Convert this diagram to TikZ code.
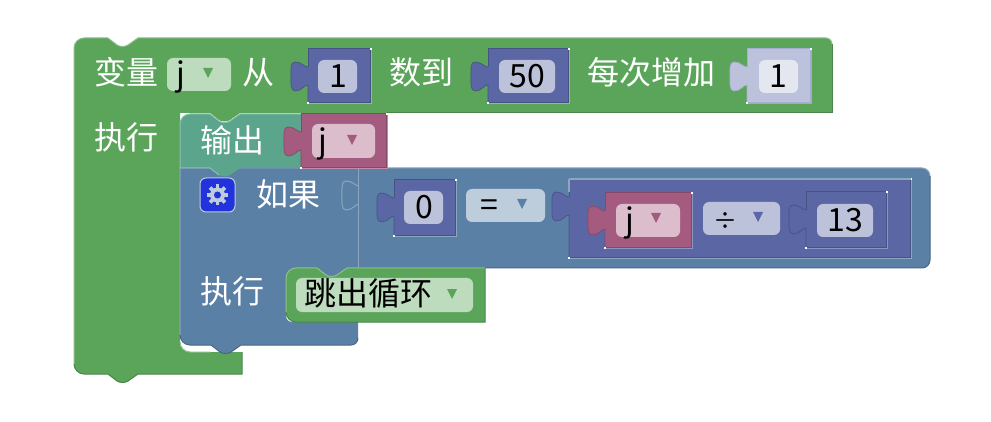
\documentclass[tikz,border=0pt]{standalone}
\usepackage{fontspec}
\setmainfont{Noto Sans CJK SC}

% block colours
\definecolor{greenbase}{HTML}{5BA55B}\definecolor{greenlight}{HTML}{8CC08C}\definecolor{greendark}{HTML}{498449}
\definecolor{tealbase}{HTML}{5BA58C}\definecolor{teallight}{HTML}{8CC0AF}\definecolor{tealdark}{HTML}{498470}
\definecolor{steelbase}{HTML}{5B80A5}\definecolor{steellight}{HTML}{8CA6C0}\definecolor{steeldark}{HTML}{496684}
\definecolor{rosebase}{HTML}{A55B80}\definecolor{roselight}{HTML}{C08CA6}\definecolor{rosedark}{HTML}{844966}
\definecolor{indigobase}{HTML}{5B67A5}\definecolor{indigolight}{HTML}{8C95C0}\definecolor{indigodark}{HTML}{495284}
\definecolor{palebase}{HTML}{BCC2DC}\definecolor{palelight}{HTML}{D5D9EA}\definecolor{paledark}{HTML}{A6ADCE}
% field colours
\definecolor{greenfield}{HTML}{BDDBBD}\definecolor{rosefield}{HTML}{DBBDCC}
\definecolor{indigofield}{HTML}{BDC2DB}\definecolor{steelfield}{HTML}{BDCDDB}\definecolor{palefield}{HTML}{E4E7F0}
\definecolor{iconblue}{HTML}{2233DD}

% notch on a top edge, bump on a bottom edge, tab on a left edge
\newcommand{\notchright}[2]{-- (#1,#2) -- (#1+9,#2+7) .. controls (#1+12,#2+9) and (#1+17,#2+9) .. (#1+20,#2+7) -- (#1+30,#2)}
\newcommand{\notchleft}[2]{-- (#1+30,#2) -- (#1+20,#2+7) .. controls (#1+17,#2+9) and (#1+12,#2+9) .. (#1+9,#2+7) -- (#1,#2)}
\newcommand{\tabpath}[2]{-- (#1,#2+36) .. controls (#1-4,#2+36) and (#1-6,#2+42) .. (#1-13,#2+42)
    .. controls (#1-18,#2+42) and (#1-17,#2+33) .. (#1-17,#2+27)
    .. controls (#1-17,#2+21) and (#1-18,#2+13) .. (#1-13,#2+13)
    .. controls (#1-6,#2+13) and (#1-4,#2+18) .. (#1,#2+18)}
% round corner: start, corner, end
\newcommand{\cornerto}[6]{-- (#1,#2) .. controls ({#1+.55*(#3-#1)},{#2+.55*(#4-#2)}) and ({#5+.55*(#3-#5)},{#6+.55*(#4-#6)}) .. (#5,#6)}

% value block: left, top, right, bottom, own family, family of the block around it
\newcommand{\valuebox}[6]{
    \fill[#5base] (#1,#2) -- (#3,#2) -- (#3,#4) -- (#1,#4) \tabpath{#1}{#2} -- cycle;
    \draw[#5dark, line width=.7pt] (#1,#4) \tabpath{#1}{#2};
    \draw[#5dark] (#1,#2+18) -- (#1,#2) -- (#3,#2);
    \draw[#5dark, line width=.7pt] (#1+1,#4-1) -- (#3-1,#4-1) -- (#3-1,#2+1);
    \draw[#6light, line width=1.2pt] (#1,#4+.6) -- (#3+.6,#4+.6) -- (#3+.6,#2);
    \fill[white] (#3-.6,#2-.6) rectangle (#3+.6,#2+.6);
    \fill[white] (#1-.6,#4-.6) rectangle (#1+.6,#4+.6);
}
\newcommand{\fieldbox}[5]{\fill[#5field, rounded corners=6pt] (#1,#2) rectangle (#3,#4);}
\newcommand{\dropmark}[3]{\fill[#3base] (#1-5,#2-5) -- (#1+5,#2-5) -- (#1,#2+5) -- cycle;}

\begin{document}
\begin{tikzpicture}[x = 1pt, y = -1pt, % one unit is one pixel of the screenshot
                line width = 1pt % line style
            ]

    \tikzstyle{whitetext}=[text = white, font = \fontsize{32}{36}\selectfont, inner sep = 0pt,
    text height = 26pt, text depth = 3pt]
    \tikzstyle{blacktext}=[whitetext, text = black]

    \useasboundingbox (0,0) rectangle (991,422);

    % outer loop block
    \fill[greenbase] (74,48) \cornerto{74}{48}{74}{38}{84}{38} \notchright{108}{38} \cornerto{826}{38}{832}{38}{832}{44}
        -- (832,113) \notchleft{210}{113} -- (180,113) \cornerto{180}{342}{180}{352}{190}{352} -- (242,352)
        -- (242,374) \notchleft{108}{374} \cornerto{84}{374}{74}{374}{74}{364} -- cycle;
    \draw[greenlight] (74,364) \cornerto{74}{48}{74}{38}{84}{38} \notchright{108}{38} \cornerto{826}{38}{832}{38}{832}{44};
    \draw[greendark] (832,44) -- (832,113) -- (387,113);
    \draw[greendark] (242,352) -- (242,374) \notchleft{108}{374} \cornerto{84}{374}{74}{374}{74}{364};
    \draw[greenlight] (180,342) \cornerto{180}{342}{180}{352}{190}{352} -- (210,352);

    \node[whitetext] (varlabel) at (126,73) {变量};
    \fieldbox{167}{58}{231}{91}{green}
    \node[blacktext] (varname) at (181,74) {j};
    \dropmark{208}{73}{green}
    \node[whitetext] (fromlabel) at (258,73) {从};
    \valuebox{308}{49}{371}{103}{indigo}{green}
    \fieldbox{318}{60}{357}{93}{indigo}
    \node[blacktext] (fromvalue) at (338,76) {1};
    \node[whitetext] (tolabel) at (421,73) {数到};
    \valuebox{488}{49}{569}{103}{indigo}{green}
    \fieldbox{499}{60}{555}{93}{indigo}
    \node[blacktext] (tovalue) at (527,76) {50};
    \node[whitetext] (bylabel) at (651,73) {每次增加};
    \valuebox{747}{49}{811}{103}{pale}{green}
    \fieldbox{759}{60}{798}{93}{pale}
    \node[blacktext] (byvalue) at (778,76) {1};
    \node[whitetext] (dolabel) at (126,138) {执行};

    % if block
    \fill[steelbase] (180,168) \cornerto{922}{168}{930}{168}{930}{176} \cornerto{930}{260}{930}{268}{922}{268}
        \notchleft{317}{268} \cornerto{296}{268}{286}{268}{286}{278} \cornerto{286}{316}{286}{322}{292}{322}
        -- (358,322) \cornerto{358}{338}{358}{345}{351}{345}
        \notchleft{211}{345} \cornerto{190}{345}{180}{345}{180}{335} -- cycle;
    \draw[steellight] (180,335) -- (180,168) \cornerto{922}{168}{930}{168}{930}{176};
    \draw[steeldark] (930,176) \cornerto{930}{260}{930}{268}{922}{268} -- (358,268);
    \draw[steeldark] (358,338) \cornerto{358}{338}{358}{345}{351}{345} \notchleft{211}{345} \cornerto{190}{345}{180}{345}{180}{335};
    \draw[steellight] (358,168) -- (358,268);
    \draw[steellight] (359,204) \tabpath{359}{168};

    % print block on top of the if block
    \fill[tealbase] (180,124) \cornerto{180}{124}{180}{114}{190}{114} \notchright{210}{114} -- (301,114)
        -- (301,168) \notchleft{210}{168} -- (180,168) -- cycle;
    \draw[teallight] (180,168) \cornerto{180}{124}{180}{114}{190}{114} \notchright{210}{114} -- (301,114);
    \draw[teallight] (180,168) -- (210,168) -- (219,175);
    \node[whitetext] (printlabel) at (232,141) {输出};
    \valuebox{301}{114}{387}{168}{rose}{rose}
    \fieldbox{312}{124}{375}{158}{rose}
    \node[blacktext] (printname) at (323,141) {j};
    \dropmark{352}{140}{rose}

    \fill[iconblue, draw=steelfield, rounded corners=6pt] (200,178) rectangle (235,212);
    \fill[steelfield] (217.5,195) circle (7.5);
    \foreach \a in {0,45,...,315}
        \draw[steelfield, line width=3.8pt] ({217.5+5*cos(\a)},{195+5*sin(\a)}) -- ({217.5+10.5*cos(\a)},{195+10.5*sin(\a)});
    \fill[iconblue] (217.5,195) circle (3.5);
    \node[whitetext] (iflabel) at (288,195) {如果};
    \node[whitetext] (thenlabel) at (232,292) {执行};

    % condition
    \valuebox{394}{180}{456}{236}{indigo}{steel}
    \fieldbox{404}{191}{443}{224}{indigo}
    \node[blacktext] (leftvalue) at (424,207) {0};
    \fieldbox{466}{189}{545}{222}{steel}
    \node[blacktext] (equalsign) at (489,205) {=};
    \dropmark{522}{204}{steel}
    \valuebox{569}{179}{911}{258}{indigo}{steel}
    \draw[steellight, line width=1.2pt] (569,179) -- (911,179);
    \draw[steellight, line width=1.2pt] (569,179) -- (569,192);
    \valuebox{605}{193}{692}{248}{rose}{indigo}
    \fieldbox{616}{204}{680}{237}{rose}
    \node[blacktext] (divname) at (630,220) {j};
    \dropmark{656}{218}{rose}
    \fieldbox{703}{202}{780}{235}{indigo}
    \node[blacktext, font=\fontsize{24}{30}\selectfont] (divsign) at (725,218) {÷};
    \dropmark{758}{217}{indigo}
    \valuebox{806}{192}{887}{248}{indigo}{indigo}
    \fieldbox{817}{204}{873}{237}{indigo}
    \node[blacktext] (divvalue) at (845,220) {13};

    % break block
    \fill[greenbase] (286,278) \cornerto{286}{278}{286}{268}{296}{268} \notchright{317}{268} -- (485,268)
        -- (485,322) \cornerto{296}{322}{286}{322}{286}{312} -- cycle;
    \draw[greenlight] (286,312) \cornerto{286}{278}{286}{268}{296}{268} \notchright{317}{268} -- (485,268);
    \draw[greendark] (485,268) -- (485,322) \cornerto{296}{322}{286}{322}{286}{312};
    \fieldbox{296}{278}{473}{312}{green}
    \node[blacktext] (breaklabel) at (368,294) {跳出循环};
    \dropmark{452}{294}{green}

\end{tikzpicture}
\end{document}
